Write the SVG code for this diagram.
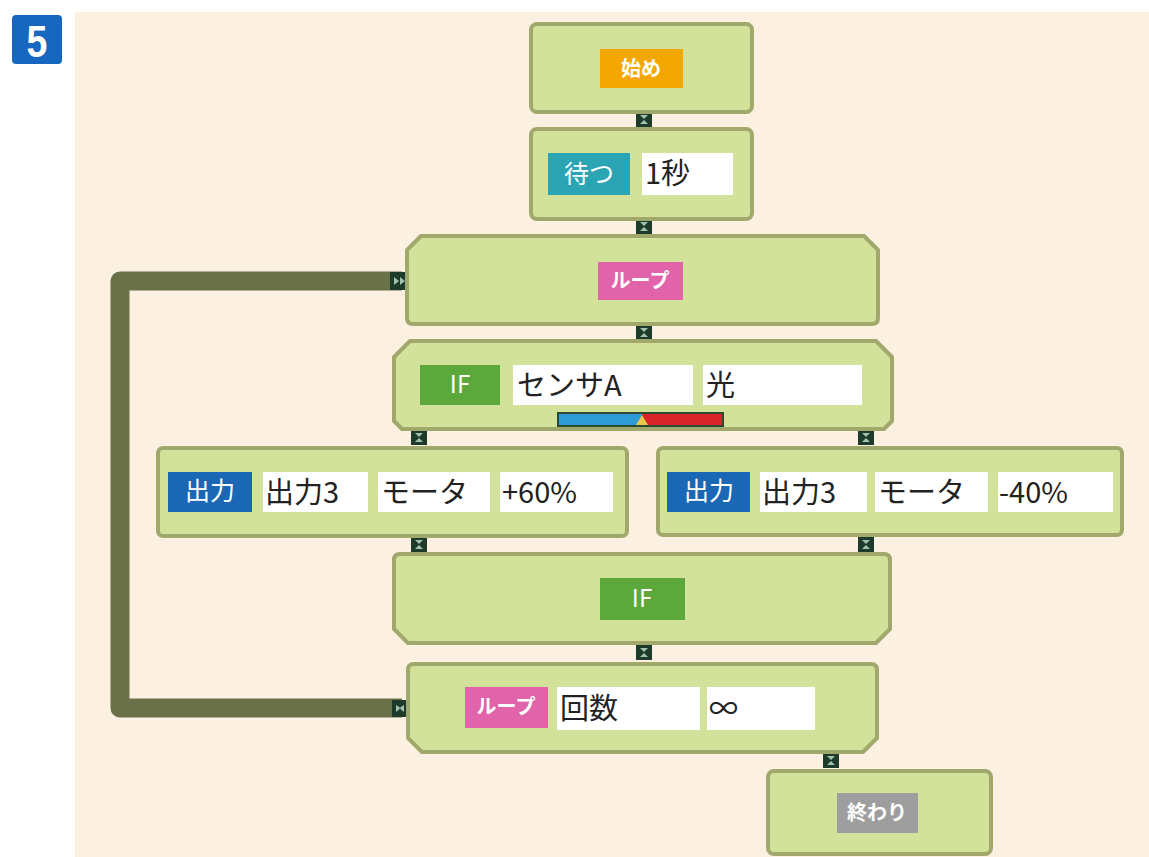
<svg xmlns="http://www.w3.org/2000/svg" width="1149" height="857" viewBox="0 0 1149 857">
<style>
.blk{fill:#D3E29B;stroke:#A1A86B;stroke-width:4;stroke-linejoin:round}
.cn{fill:#1D3A2B}
.cnm{fill:#9FC3AE}
.lbl{fill:#fff;font-family:"Noto Sans CJK JP","Noto Sans",sans-serif;font-size:22px;text-anchor:middle}
.b{font-weight:bold}
.val{fill:#fff}
.vt{fill:#222;font-family:"Noto Sans CJK JP","Noto Sans",sans-serif;font-size:29px}
</style>
<defs>
<g id="conn">
<rect class="cn" x="0" y="0" width="16" height="15"/>
<path class="cnm" d="M4,3 L12,3 L8,7 Z M4,12 L12,12 L8,8 Z"/>
</g>
</defs>
<rect x="0" y="0" width="1149" height="857" fill="#ffffff"/>
<rect x="75" y="12" width="1074" height="845" fill="#FCF0E1"/>
<g id="badge">
<rect x="12" y="15" width="50" height="49" rx="4" fill="#1766BF"/>
<text x="37" y="57" fill="#fff" font-family="Liberation Sans, sans-serif" font-weight="bold" font-size="44" text-anchor="middle" transform="translate(37 0) scale(0.85 1) translate(-37 0)">5</text>
</g>
<g id="connectors">
<path d="M402,281 L120,281 L120,708 L402,708" fill="none" stroke="#6A7048" stroke-width="19" stroke-linejoin="round"/>
<g>
<rect class="cn" x="390" y="272" width="19" height="18"/>
<path class="cnm" d="M394,277 L399,281 L394,285 Z M400,277 L405,281 L400,285 Z"/>
</g>
<g>
<rect class="cn" x="392" y="700" width="16" height="17"/>
<path class="cnm" d="M396,705 L401,708 L396,712 Z M404,705 L399,708 L404,712 Z"/>
</g>
<use href="#conn" x="636" y="112"/>
<use href="#conn" x="636" y="219"/>
<use href="#conn" x="636" y="325"/>
<use href="#conn" x="411" y="430"/>
<use href="#conn" x="858" y="430"/>
<use href="#conn" x="411" y="537"/>
<use href="#conn" x="858" y="537"/>
<use href="#conn" x="636" y="645"/>
<use href="#conn" x="823" y="753"/>
</g>
<g id="start">
<rect class="blk" x="531" y="24" width="221" height="88" rx="6"/>
<rect x="600" y="49" width="83" height="39" fill="#F4A700"/>
<text class="lbl b" x="641" y="76" style="font-size:20px">始め</text>
</g>
<g id="wait">
<rect class="blk" x="531" y="129" width="221" height="90" rx="6"/>
<rect x="548" y="153" width="82" height="42" fill="#2BA4B4"/>
<text class="lbl" x="589" y="183" style="font-size:25px">待つ</text>
<rect class="val" x="642" y="153" width="91" height="42"/>
<text class="vt" x="645" y="184">1秒</text>
</g>
<g id="loop-start">
<path class="blk" d="M407,250 L421,236 L864,236 L878,250 L878,318 Q878,324 872,324 L413,324 Q407,324 407,318 Z"/>
<rect x="598" y="262" width="85" height="38" fill="#E163AA"/>
<text class="lbl b" x="640" y="288" style="font-size:20px">ループ</text>
</g>
<g id="if">
<path class="blk" d="M394,357 L410,341 L876,341 L892,357 L892,421 L884,429 L402,429 L394,421 Z"/>
<rect x="420" y="365" width="80" height="40" fill="#5DA83C"/>
<text class="lbl" x="460" y="393" style="font-size:24px">IF</text>
<rect class="val" x="513" y="365" width="180" height="40"/>
<text class="vt" x="517" y="396">センサA</text>
<rect class="val" x="703" y="365" width="159" height="40"/>
<text class="vt" x="706" y="396">光</text>
<rect x="557" y="412" width="167" height="15" fill="#2F4A32"/>
<rect x="559" y="414" width="83" height="11" fill="#2E9AD6"/>
<rect x="642" y="414" width="80" height="11" fill="#D9232A"/>
<path d="M636,425 L642,415 L648,425 Z" fill="#E8C84A"/>
</g>
<g id="out-left">
<rect class="blk" x="158" y="448" width="469" height="88" rx="5"/>
<rect x="168" y="472" width="84" height="40" fill="#1A68B5"/>
<text class="lbl" x="210" y="500" style="font-size:25px">出力</text>
<rect class="val" x="263" y="472" width="105" height="40"/>
<text class="vt" x="265" y="503">出力3</text>
<rect class="val" x="378" y="472" width="112" height="40"/>
<text class="vt" x="381" y="503">モータ</text>
<rect class="val" x="500" y="472" width="113" height="40"/>
<text class="vt" x="502" y="503">+60%</text>
</g>
<g id="out-right">
<rect class="blk" x="658" y="448" width="464" height="87" rx="5"/>
<rect x="667" y="472" width="83" height="40" fill="#1A68B5"/>
<text class="lbl" x="709" y="500" style="font-size:25px">出力</text>
<rect class="val" x="760" y="472" width="107" height="40"/>
<text class="vt" x="762" y="503">出力3</text>
<rect class="val" x="875" y="472" width="113" height="40"/>
<text class="vt" x="878" y="503">モータ</text>
<rect class="val" x="998" y="472" width="115" height="40"/>
<text class="vt" x="999" y="503">-40%</text>
</g>
<g id="if-end">
<path class="blk" d="M394,560 Q394,554 400,554 L884,554 Q890,554 890,560 L890,629 L876,643 L408,643 L394,629 Z"/>
<rect x="600" y="578" width="85" height="42" fill="#5DA83C"/>
<text class="lbl" x="642" y="607" style="font-size:24px">IF</text>
</g>
<g id="loop-end">
<path class="blk" d="M408,670 Q408,664 414,664 L871,664 Q877,664 877,670 L877,738 L863,752 L422,752 L408,738 Z"/>
<rect x="465" y="687" width="83" height="41" fill="#E163AA"/>
<text class="lbl b" x="506" y="714" style="font-size:20px">ループ</text>
<rect class="val" x="557" y="687" width="143" height="43"/>
<text class="vt" x="560" y="719">回数</text>
<rect class="val" x="707" y="687" width="108" height="43"/>
<text class="vt" x="709" y="719">∞</text>
</g>
<g id="end">
<rect class="blk" x="768" y="771" width="223" height="83" rx="6"/>
<rect x="837" y="793" width="81" height="40" fill="#9E9E9E"/>
<text class="lbl b" x="877" y="820" style="font-size:20px">終わり</text>
</g>
</svg>
